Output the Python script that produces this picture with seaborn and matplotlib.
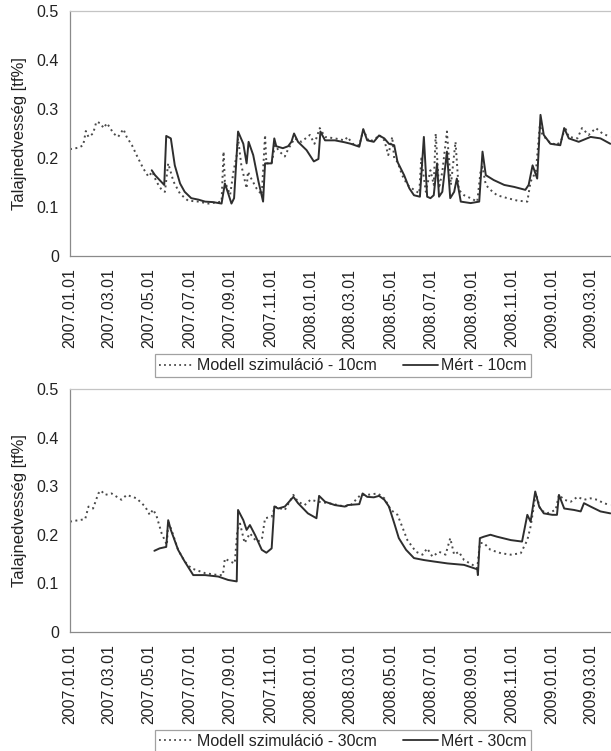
import numpy as np
import pandas as pd
import matplotlib
matplotlib.use("Agg")
import matplotlib.pyplot as plt
import matplotlib.dates as mdates
from matplotlib.ticker import FuncFormatter
from matplotlib.lines import Line2D
import seaborn as sns

# ---- data: day offsets from 2007-01-01 and soil moisture values ----
START = pd.Timestamp("2007-01-01")

# 10 cm depth, model simulation
model10_day = [0, 13, 20, 24, 28, 35, 40, 46, 51, 56, 61, 66, 73, 81, 86, 94, 101, 111, 119, 125,
               131, 139, 144, 149, 157, 167, 179, 195, 210, 230, 233, 235, 243, 248, 253, 255, 260,
               268, 270, 275, 283, 291, 296, 298, 306, 311, 318, 326, 331, 341, 351, 364, 371, 379,
               387, 402, 417, 421, 429, 439, 445, 454, 464, 469, 477, 483, 489, 492, 497, 504, 512,
               522, 530, 533, 540, 547, 552, 555, 560, 565, 572, 578, 585, 590, 598, 608, 618, 623,
               626, 631, 638, 648, 664, 679, 694, 699, 707, 713, 717, 727, 739, 747, 751, 757, 770,
               777, 787, 798, 808, 820]
model10_val = [0.218, 0.221, 0.226, 0.255, 0.243, 0.250, 0.274, 0.271, 0.261, 0.271, 0.261, 0.250,
               0.243, 0.259, 0.243, 0.226, 0.206, 0.179, 0.162, 0.172, 0.152, 0.135, 0.131, 0.189,
               0.152, 0.127, 0.113, 0.111, 0.107, 0.111, 0.213, 0.152, 0.125, 0.172, 0.206, 0.240,
               0.185, 0.138, 0.172, 0.158, 0.138, 0.125, 0.247, 0.189, 0.189, 0.226, 0.213, 0.203,
               0.218, 0.240, 0.233, 0.247, 0.229, 0.261, 0.243, 0.240, 0.236, 0.243, 0.229, 0.226,
               0.257, 0.233, 0.240, 0.247, 0.236, 0.206, 0.243, 0.199, 0.192, 0.165, 0.145, 0.135,
               0.128, 0.199, 0.131, 0.175, 0.145, 0.250, 0.138, 0.172, 0.254, 0.145, 0.233, 0.135,
               0.124, 0.118, 0.111, 0.172, 0.182, 0.145, 0.135, 0.124, 0.118, 0.113, 0.111, 0.152,
               0.172, 0.267, 0.247, 0.233, 0.226, 0.240, 0.264, 0.243, 0.240, 0.261, 0.247, 0.261,
               0.250, 0.243]

# 10 cm depth, measured
meas10_day = [124, 129, 136, 143, 146, 153, 159, 167, 174, 184, 195, 205, 217, 230, 235, 240, 245,
              249, 255, 263, 268, 271, 278, 286, 293, 296, 306, 310, 313, 323, 331, 336, 340, 346,
              359, 370, 377, 380, 387, 402, 417, 426, 439, 445, 451, 461, 469, 477, 484, 492, 497,
              507, 515, 522, 531, 537, 542, 547, 552, 557, 560, 565, 572, 577, 583, 587, 593, 608,
              621, 626, 631, 643, 659, 674, 691, 696, 702, 709, 714, 719, 729, 744, 750, 757, 772,
              790, 805, 820]
meas10_val = [0.175, 0.165, 0.155, 0.145, 0.245, 0.240, 0.185, 0.148, 0.131, 0.118, 0.115, 0.111,
              0.110, 0.107, 0.148, 0.128, 0.107, 0.118, 0.254, 0.229, 0.189, 0.233, 0.206, 0.152,
              0.111, 0.189, 0.189, 0.240, 0.224, 0.220, 0.224, 0.233, 0.250, 0.233, 0.216, 0.193,
              0.198, 0.254, 0.236, 0.236, 0.232, 0.229, 0.223, 0.259, 0.236, 0.233, 0.246, 0.240,
              0.229, 0.226, 0.192, 0.165, 0.138, 0.124, 0.121, 0.243, 0.121, 0.118, 0.124, 0.189,
              0.121, 0.131, 0.213, 0.118, 0.131, 0.158, 0.111, 0.108, 0.111, 0.213, 0.165, 0.155,
              0.145, 0.141, 0.135, 0.145, 0.185, 0.158, 0.288, 0.247, 0.229, 0.226, 0.261, 0.240,
              0.233, 0.243, 0.240, 0.229]

# 30 cm depth, model simulation
model30_day = [0, 13, 23, 28, 35, 43, 47, 53, 63, 78, 86, 101, 114, 121, 126, 131, 139, 147, 149,
               154, 164, 174, 184, 205, 225, 232, 235, 243, 250, 254, 258, 265, 273, 283, 291, 296,
               306, 311, 326, 339, 346, 356, 365, 377, 392, 407, 417, 426, 441, 451, 467, 477, 487,
               497, 504, 512, 525, 535, 542, 550, 560, 570, 577, 583, 590, 598, 611, 618, 622, 628,
               638, 654, 669, 684, 694, 699, 707, 714, 724, 737, 742, 750, 760, 770, 780, 790, 800,
               810, 820]
model30_val = [0.227, 0.230, 0.232, 0.258, 0.254, 0.285, 0.291, 0.282, 0.285, 0.272, 0.282, 0.275,
               0.258, 0.241, 0.252, 0.240, 0.203, 0.179, 0.227, 0.210, 0.169, 0.145, 0.131, 0.121,
               0.117, 0.117, 0.151, 0.145, 0.141, 0.210, 0.223, 0.183, 0.203, 0.186, 0.189, 0.234,
               0.237, 0.258, 0.251, 0.282, 0.268, 0.261, 0.272, 0.268, 0.265, 0.261, 0.258, 0.261,
               0.282, 0.282, 0.285, 0.275, 0.251, 0.241, 0.217, 0.189, 0.165, 0.159, 0.172, 0.155,
               0.165, 0.159, 0.193, 0.159, 0.165, 0.148, 0.138, 0.131, 0.183, 0.183, 0.169, 0.162,
               0.159, 0.162, 0.189, 0.217, 0.285, 0.251, 0.244, 0.251, 0.282, 0.272, 0.268, 0.278,
               0.272, 0.275, 0.272, 0.265, 0.261]

# 30 cm depth, measured
meas30_day = [128, 136, 146, 149, 153, 164, 174, 187, 205, 225, 240, 253, 255, 263, 268, 273, 281,
              291, 298, 306, 310, 316, 326, 339, 346, 361, 374, 378, 387, 402, 417, 421, 439, 444,
              451, 461, 469, 477, 484, 492, 499, 510, 522, 537, 552, 573, 598, 618, 619, 622, 628,
              638, 648, 669, 686, 694, 699, 706, 712, 719, 732, 739, 742, 750, 765, 775, 780, 790,
              805, 820]
meas30_val = [0.167, 0.172, 0.175, 0.230, 0.210, 0.169, 0.145, 0.117, 0.117, 0.114, 0.107, 0.104,
              0.251, 0.230, 0.210, 0.220, 0.199, 0.169, 0.163, 0.172, 0.258, 0.254, 0.258, 0.278,
              0.265, 0.244, 0.234, 0.280, 0.268, 0.261, 0.258, 0.261, 0.263, 0.285, 0.278, 0.277,
              0.280, 0.272, 0.258, 0.224, 0.193, 0.169, 0.152, 0.148, 0.145, 0.141, 0.138, 0.129,
              0.117, 0.193, 0.196, 0.200, 0.196, 0.189, 0.186, 0.241, 0.227, 0.289, 0.258, 0.244,
              0.241, 0.241, 0.282, 0.254, 0.251, 0.248, 0.265, 0.258, 0.248, 0.244]

tick_labels = ["2007.01.01", "2007.03.01", "2007.05.01", "2007.07.01", "2007.09.01",
               "2007.11.01", "2008.01.01", "2008.03.01", "2008.05.01", "2008.07.01",
               "2008.09.01", "2008.11.01", "2009.01.01", "2009.03.01"]
y_ticks = [0, 0.1, 0.2, 0.3, 0.4, 0.5]
y_label = "Talajnedvesség [tf%]"
legend_10 = ["Modell szimuláció - 10cm", "Mért - 10cm"]
legend_30 = ["Modell szimuláció - 30cm", "Mért - 30cm"]


def to_dates(days):
    return START + pd.to_timedelta(np.asarray(days), unit="D")


sns.set_style("white")
plt.rcParams["font.family"] = ["Liberation Sans", "DejaVu Sans"]

TEXT = "#222222"
LINE_SOLID = "#2e2e2e"
LINE_DOT = "#4a4a4a"
SPINE = "#8a8a8a"
DOT_STYLE = (0, (1.0, 1.8))

fig = plt.figure(figsize=(6.11, 7.51), dpi=100)
ax_top = fig.add_axes([0.1146, 0.6591, 0.8854, 0.3263])
ax_bot = fig.add_axes([0.1146, 0.1585, 0.8854, 0.3236])

tick_dates = pd.to_datetime(tick_labels, format="%Y.%m.%d")


def draw_panel(ax, m_day, m_val, s_day, s_val):
    sns.lineplot(x=to_dates(m_day), y=m_val, ax=ax, color=LINE_DOT,
                 linestyle=DOT_STYLE, linewidth=1.4, estimator=None)
    sns.lineplot(x=to_dates(s_day), y=s_val, ax=ax, color=LINE_SOLID,
                 linewidth=1.4, estimator=None)
    ax.set_xlim(START, START + pd.Timedelta(days=821))
    ax.set_ylim(0, 0.5)
    ax.set_yticks(y_ticks)
    ax.yaxis.set_major_formatter(FuncFormatter(lambda v, p: f"{v:g}"))
    ax.set_xticks(tick_dates)
    ax.xaxis.set_major_formatter(mdates.DateFormatter("%Y.%m.%d"))
    ax.tick_params(axis="x", rotation=90, labelsize=11.5, colors=TEXT,
                   direction="out", length=5, width=0.8, pad=4)
    ax.tick_params(axis="y", labelsize=11.5, colors=TEXT,
                   direction="out", length=5, width=0.8, pad=3)
    for t in ax.get_xticklines() + ax.get_yticklines():
        t.set_color(SPINE)
    ax.set_ylabel(y_label, fontsize=12, color=TEXT)
    ax.yaxis.set_label_coords(-0.08, 0.5)
    ax.set_xlabel("")
    ax.spines["left"].set_color(SPINE)
    ax.spines["bottom"].set_color(SPINE)
    ax.spines["top"].set_color("#c4c4c4")
    ax.spines["right"].set_visible(False)
    for s in ("left", "bottom", "top"):
        ax.spines[s].set_linewidth(0.9)
    ax.grid(False)


draw_panel(ax_top, model10_day, model10_val, meas10_day, meas10_val)
draw_panel(ax_bot, model30_day, model30_val, meas30_day, meas30_val)


def add_legend(labels, y):
    handles = [Line2D([], [], color=LINE_DOT, linestyle=DOT_STYLE, linewidth=1.3),
               Line2D([], [], color=LINE_SOLID, linewidth=1.3)]
    leg = fig.legend(handles, labels, loc="center", bbox_to_anchor=(0.561, y),
                     ncol=2, fontsize=11.5, frameon=True, fancybox=False,
                     edgecolor=SPINE, handlelength=2.2, handletextpad=0.2,
                     columnspacing=1.6, borderpad=0.25, borderaxespad=0)
    leg.get_frame().set_linewidth(0.9)
    for t in leg.get_texts():
        t.set_color(TEXT)


add_legend(legend_10, 0.5127)
add_legend(legend_30, 0.0133)

fig.savefig("out.png", dpi=100, facecolor="white")
